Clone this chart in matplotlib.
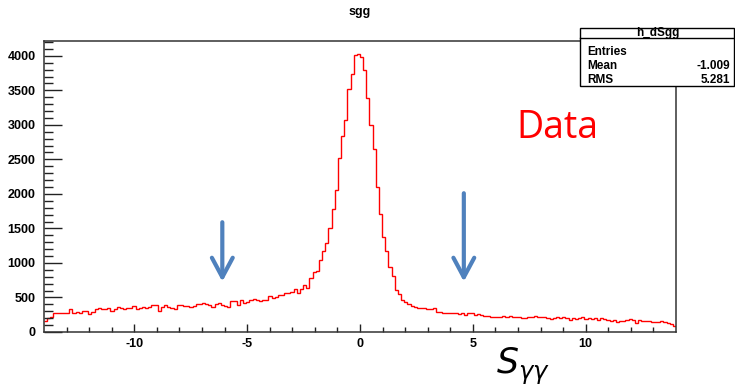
import numpy as np
import matplotlib
matplotlib.use('Agg')
from matplotlib import pyplot as plt
from matplotlib.patches import Rectangle
from matplotlib.lines import Line2D

# histogram h_dSgg : 200 bins from -14 to 14
x_lo, x_hi = -14.0, 14.0
counts = [
    164, 198, 222, 271, 271, 280, 275, 271, 329, 271,
    295, 271, 309, 309, 256, 295, 329, 343, 329, 329,
    343, 309, 329, 367, 343, 329, 353, 353, 377, 333,
    343, 367, 343, 367, 391, 391, 309, 367, 391, 367,
    343, 329, 391, 391, 377, 377, 367, 377, 400, 410,
    425, 410, 391, 367, 401, 415, 391, 377, 367, 454,
    454, 391, 464, 425, 439, 464, 474, 464, 454, 464,
    464, 522, 493, 507, 536, 536, 560, 570, 584, 618,
    570, 618, 681, 633, 778, 874, 889, 1043, 1178, 1295,
    1502, 1783, 2053, 2517, 2845, 3072, 3522, 3744, 4005, 4024,
    3990, 3797, 3387, 3000, 2652, 2097, 1710, 1381, 1178, 946,
    816, 609, 546, 464, 439, 406, 377, 362, 343, 343,
    343, 329, 329, 343, 295, 295, 280, 280, 280, 271,
    280, 261, 271, 246, 280, 271, 246, 261, 246, 232,
    232, 222, 222, 212, 212, 232, 222, 232, 212, 212,
    222, 198, 198, 222, 222, 232, 222, 212, 222, 198,
    184, 198, 222, 198, 212, 198, 174, 198, 184, 198,
    212, 184, 198, 184, 198, 174, 198, 184, 174, 164,
    174, 150, 164, 164, 174, 184, 174, 126, 174, 164,
    164, 164, 150, 150, 150, 164, 140, 126, 116, 87,
]
edges = np.linspace(x_lo, x_hi, len(counts) + 1)

stat_labels = ['Entries', 'Mean', 'RMS']
stat_values = ['', '-1.009', '5.281']

# arrows marking the sideband cuts (x, top of shaft)
arrow_x = [-6.1, 4.6]
arrow_top = [1590, 2010]
arrow_tip = 730

W, H = 735, 389
fig = plt.figure(figsize=(W / 100., H / 100.), dpi=100, facecolor='w')
ax = fig.add_axes([44. / W, 1 - 332. / H, (676. - 44.) / W, (332. - 41.) / H])

ax.stairs(counts, edges, color='#ff0000', lw=1.0, baseline=None)

ax.set_xlim(x_lo, x_hi)
ax.set_ylim(0, 4215)

tick_font = dict(family='Liberation Sans', weight='bold', size=9)
ax.set_xticks([-10, -5, 0, 5, 10])
ax.set_xticks(np.arange(-13, 14, 1), minor=True)
ax.set_yticks(np.arange(0, 4001, 500))
ax.set_yticks(np.arange(0, 4201, 100), minor=True)
ax.set_xticklabels(['-10', '-5', '0', '5', '10'], fontdict=tick_font)
ax.set_yticklabels([str(v) for v in range(0, 4001, 500)], fontdict=tick_font)
ax.tick_params(axis='y', which='major', direction='in', length=13, width=1, pad=6, color='#222222')
ax.tick_params(axis='y', which='minor', direction='in', length=6.5, width=1, color='#222222')
ax.tick_params(axis='x', which='major', direction='in', length=6, width=1, pad=4, color='#222222')
ax.tick_params(axis='x', which='minor', direction='in', length=3.5, width=1, color='#222222')

for s in ax.spines.values():
    s.set_color('#333333')
    s.set_linewidth(1.1)

# arrows
for xa, ya in zip(arrow_x, arrow_top):
    ax.annotate('', xy=(xa, arrow_tip), xytext=(xa, ya),
                arrowprops=dict(arrowstyle='->,head_length=1.4,head_width=0.75',
                                color='#4F81BD', lw=3, shrinkA=0, shrinkB=0))

# title
fig.text(360. / W, 1 - 12. / H, 'sgg', ha='center', va='center',
         family='Liberation Sans', weight='bold', size=9)

# Data label
fig.text(516. / W, 1 - 138. / H, 'Data', ha='left', va='baseline',
         family='Open Sans', color='#ff0000', size=27)

# x axis label
plt.rcParams['mathtext.fontset'] = 'dejavusans'
fig.text(496. / W, 1 - 366. / H, r'$S_{\gamma\gamma}$', ha='left', va='center',
         size=25)

# stats box
bx0, bx1, by0, by1 = 580., 734., 28., 86.
fig.add_artist(Rectangle((bx0 / W, 1 - by1 / H), (bx1 - bx0) / W, (by1 - by0) / H,
                         transform=fig.transFigure, facecolor='w',
                         edgecolor='k', lw=1, zorder=5))
fig.add_artist(Line2D([bx0 / W, bx1 / W], [1 - 37.5 / H, 1 - 37.5 / H],
                      transform=fig.transFigure, color='k', lw=1, zorder=6))
fig.text(658. / W, 1 - 33. / H, 'h_dSgg', ha='center', va='center',
         family='Liberation Sans', weight='bold', size=8.5, zorder=7)
for k, (lab, val) in enumerate(zip(stat_labels, stat_values)):
    yy = 1 - (52. + 14. * k) / H
    fig.text(587. / W, yy, lab, ha='left', va='center',
             family='Liberation Sans', weight='bold', size=8.5, zorder=7)
    fig.text(730. / W, yy, val, ha='right', va='center',
             family='Liberation Sans', weight='bold', size=8.5, zorder=7)

fig.savefig('out.png', dpi=100)
plt.close(fig)
